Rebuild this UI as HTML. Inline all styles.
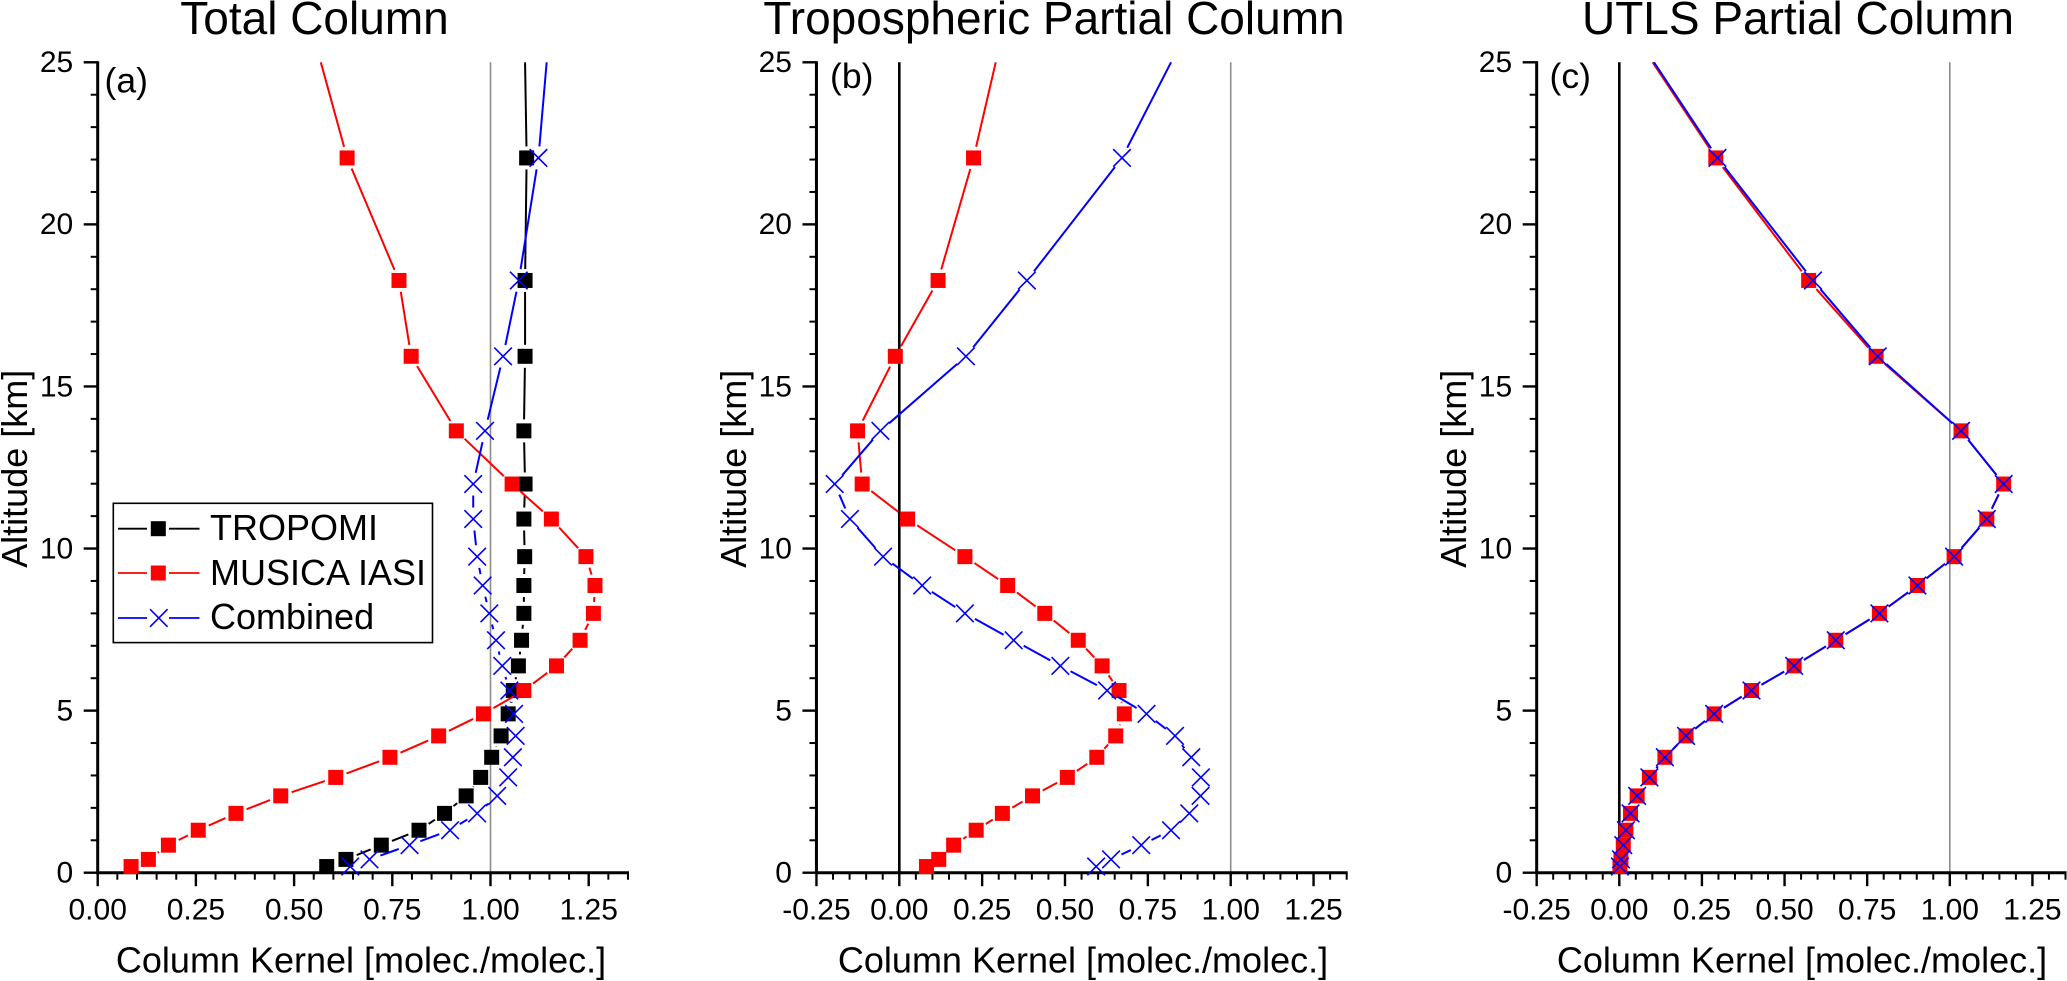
<!DOCTYPE html>
<html lang="en">
<head>
<meta charset="utf-8">
<title>Column Kernel Profiles</title>
<style>
html,body{margin:0;padding:0;background:#fff}
svg{display:block}
text{font-family:"Liberation Sans",Arial,sans-serif;fill:#000}
</style>
</head>
<body>
<svg id="chart" xmlns="http://www.w3.org/2000/svg" width="2067" height="981" viewBox="0 0 2067 981">
<rect x="0" y="0" width="2067" height="981" fill="#fff"/>
</svg>
<script>
const altitudes = [0.19,0.41,0.85,1.31,1.83,2.37,2.94,3.56,4.22,4.90,5.62,6.38,7.17,8.0,8.86,9.75,10.91,11.99,13.63,15.93,18.27,22.05,25];

const totalTropomi = [0.583,0.632,0.722,0.818,0.883,0.938,0.975,1.003,1.027,1.045,1.058,1.071,1.079,1.085,1.085,1.087,1.085,1.088,1.085,1.088,1.088,1.092,1.088];
const totalMusica = [0.085,0.129,0.18,0.256,0.352,0.466,0.606,0.744,0.868,0.982,1.085,1.168,1.228,1.262,1.266,1.243,1.155,1.055,0.913,0.798,0.767,0.635,0.568];
const totalCombined = [0.643,0.692,0.794,0.897,0.966,1.017,1.045,1.057,1.064,1.06,1.048,1.03,1.014,0.997,0.98,0.966,0.956,0.956,0.986,1.032,1.072,1.122,1.143];

const tropoMusica = [0.082,0.119,0.164,0.232,0.311,0.402,0.507,0.596,0.653,0.679,0.663,0.612,0.54,0.439,0.327,0.198,0.025,-0.112,-0.126,-0.012,0.117,0.224,0.291];
const tropoCombined = [0.594,0.639,0.73,0.82,0.875,0.909,0.91,0.881,0.832,0.746,0.627,0.486,0.345,0.198,0.069,-0.049,-0.149,-0.195,-0.057,0.201,0.385,0.672,0.82];

const utlsMusica = [0.002,0.005,0.012,0.02,0.034,0.054,0.091,0.138,0.202,0.287,0.40,0.529,0.655,0.787,0.902,1.013,1.112,1.163,1.034,0.777,0.573,0.292,0.101];
const utlsCombined = [0.002,0.005,0.012,0.02,0.034,0.054,0.091,0.138,0.202,0.287,0.40,0.529,0.655,0.787,0.902,1.013,1.112,1.163,1.034,0.782,0.586,0.297,0.105];

const xTickValuesA = [0,0.25,0.5,0.75,1,1.25];
const xTickLabelsA = ['0.00','0.25','0.50','0.75','1.00','1.25'];
const xTickValuesBC = [-0.25,0,0.25,0.5,0.75,1,1.25];
const xTickLabelsBC = ['-0.25','0.00','0.25','0.50','0.75','1.00','1.25'];
const yTickValues = [0,5,10,15,20,25];
const yTickLabels = ['0','5','10','15','20','25'];

const legendLabels = ['TROPOMI','MUSICA IASI','Combined'];

const NS = 'http://www.w3.org/2000/svg';
const svg = document.getElementById('chart');
const yBottom = 872.7, yTop = 62.3, yMaxKm = 25;
const BLACK = '#000', RED = '#ff0000', BLUE = '#0000ff';

function yScale(km){ return yBottom - (km / yMaxKm) * (yBottom - yTop); }

function make(tag, attrs, parent){
  const el = document.createElementNS(NS, tag);
  for (const k in attrs) el.setAttribute(k, attrs[k]);
  (parent || svg).appendChild(el);
  return el;
}

function drawLine(parent, x1, y1, x2, y2, color, width){
  return make('line', {x1:x1, y1:y1, x2:x2, y2:y2, stroke:color, 'stroke-width':width}, parent);
}

function drawSquare(parent, cx, cy, color){
  const size = 15;
  const r = make('rect', {x:cx - size/2, y:cy - size/2, width:size, height:size, fill:color}, parent);
  return r;
}

function drawCross(parent, cx, cy, color){
  const h = 8.8;
  const g = make('g', {stroke:color, 'stroke-width':1.6, fill:'none'}, parent);
  make('line', {x1:cx-h, y1:cy-h, x2:cx+h, y2:cy+h}, g);
  make('line', {x1:cx-h, y1:cy+h, x2:cx+h, y2:cy-h}, g);
  return g;
}

function drawSeries(parent, name, xs, xScale, color, marker){
  const g = make('g', {}, parent);
  
  
  const gap = 11.5;
  for (let i = 0; i < xs.length - 1; i++) {
    const x1 = xScale(xs[i]), y1 = yScale(altitudes[i]);
    const x2 = xScale(xs[i+1]), y2 = yScale(altitudes[i+1]);
    const len = Math.hypot(x2-x1, y2-y1);
    const endGap = altitudes[i+1] >= yMaxKm ? 0 : gap;
    if (len <= gap + endGap) continue;
    const ux = (x2-x1)/len, uy = (y2-y1)/len;
    drawLine(g, x1+ux*gap, y1+uy*gap, x2-ux*endGap, y2-uy*endGap, color, 2);
  }
  for (let i = 0; i < xs.length; i++) {
    if (altitudes[i] >= yMaxKm) continue;
    const cx = xScale(xs[i]), cy = yScale(altitudes[i]);
    const m = marker === 'square' ? drawSquare(g, cx, cy, color) : drawCross(g, cx, cy, color);
    
    
  }
}

function drawPanel(p){
  const g = make('g', {});
  
  
  const xScale = v => p.xZero + v * p.xUnit;

  const title = make('text', {x:p.titleX, y:34, 'font-size':46, 'text-anchor':'middle'}, g);
  title.textContent = p.title;
  
  

  const refLine = drawLine(g, xScale(1), yTop, xScale(1), yBottom, '#8c8c8c', 1.6);
  
  
  if (p.zeroLine) {
    const zero = drawLine(g, xScale(0), yTop, xScale(0), yBottom, BLACK, 2.6);
    
    
  }

  const xAxis = make('g', {}, g);
  
  
  const yAxis = make('g', {}, g);
  
  

  const xMax = 1.35;
  drawLine(xAxis, xScale(p.xMin) - 1.5, yBottom, xScale(xMax) + 1, yBottom, BLACK, 3);
  drawLine(yAxis, xScale(p.xMin), yTop - 1, xScale(p.xMin), yBottom, BLACK, 3);

  const minorCount = Math.round((xMax - p.xMin) / 0.05);
  for (let i = 0; i <= minorCount; i++) {
    const v = p.xMin + i * 0.05;
    const isMajor = i % 5 === 0;
    drawLine(xAxis, xScale(v), yBottom, xScale(v), yBottom + (isMajor ? 13.5 : 7), BLACK, isMajor ? 2.4 : 2);
  }
  p.xTickValues.forEach((v, i) => {
    const t = make('text', {x:xScale(v), y:919.5, 'font-size':30, 'text-anchor':'middle'}, xAxis);
    t.textContent = p.xTickLabels[i];
    
    
  });

  const axisX = xScale(p.xMin);
  for (let km = 0; km <= yMaxKm; km++) {
    const isMajor = km % 5 === 0;
    drawLine(yAxis, axisX, yScale(km), axisX - (isMajor ? 14 : 7), yScale(km), BLACK, isMajor ? 2.4 : 2);
  }
  yTickValues.forEach((v, i) => {
    const t = make('text', {x:axisX - 24.5, y:yScale(v) + 9.8, 'font-size':30, 'text-anchor':'end'}, yAxis);
    t.textContent = yTickLabels[i];
    
    
  });

  const xTitle = make('text', {x:p.xTitleX, y:972.7, 'font-size':36, 'text-anchor':'middle'}, g);
  xTitle.textContent = 'Column Kernel [molec./molec.]';
  
  

  const yTitle = make('text', {x:0, y:0, 'font-size':36, 'text-anchor':'middle', transform:'translate(' + p.yTitleX + ',468.8) rotate(-90)'}, g);
  yTitle.textContent = 'Altitude [km]';
  
  

  const tag = make('text', {x:p.tagX, y:p.tagY, 'font-size':35.5}, g);
  tag.textContent = p.tag;
  
  

  p.series.forEach(s => drawSeries(g, s.name, s.values, xScale, s.color, s.marker));
}

drawPanel({
  name:'panel-total-column', title:'Total Column', tag:'(a)', tagX:104.5, tagY:92.5,
  titleX:314.5, xTitleX:361, yTitleX:27, xZero:97.7, xUnit:392.8, xMin:0, zeroLine:false,
  xTickValues:xTickValuesA, xTickLabels:xTickLabelsA,
  series:[
    {name:'tropomi-series', values:totalTropomi, color:BLACK, marker:'square'},
    {name:'musica-iasi-series', values:totalMusica, color:RED, marker:'square'},
    {name:'combined-series', values:totalCombined, color:BLUE, marker:'cross'}
  ]
});
drawPanel({
  name:'panel-tropospheric-column', title:'Tropospheric Partial Column', tag:'(b)', tagX:830, tagY:88,
  titleX:1054, xTitleX:1083, yTitleX:746, xZero:899.3, xUnit:331.4, xMin:-0.25, zeroLine:true,
  xTickValues:xTickValuesBC, xTickLabels:xTickLabelsBC,
  series:[
    {name:'musica-iasi-series', values:tropoMusica, color:RED, marker:'square'},
    {name:'combined-series', values:tropoCombined, color:BLUE, marker:'cross'}
  ]
});
drawPanel({
  name:'panel-utls-column', title:'UTLS Partial Column', tag:'(c)', tagX:1549.5, tagY:88,
  titleX:1798, xTitleX:1802, yTitleX:1466, xZero:1619.3, xUnit:330.5, xMin:-0.25, zeroLine:true,
  xTickValues:xTickValuesBC, xTickLabels:xTickLabelsBC,
  series:[
    {name:'musica-iasi-series', values:utlsMusica, color:RED, marker:'square'},
    {name:'combined-series', values:utlsCombined, color:BLUE, marker:'cross'}
  ]
});

const legend = make('g', {});


make('rect', {x:113.3, y:503.3, width:319.2, height:139.3, fill:'#fff', stroke:'#000', 'stroke-width':1.6}, legend);
const legendColors = [BLACK, RED, BLUE];
const legendMarkers = ['square','square','cross'];
const legendLineY = [528.7, 573, 618];
const legendTextY = [540, 585, 629];
legendLabels.forEach((label, i) => {
  const e = make('g', {}, legend);
  
  
  drawLine(e, 118, legendLineY[i], 147, legendLineY[i], legendColors[i], 1.8);
  drawLine(e, 169, legendLineY[i], 199.5, legendLineY[i], legendColors[i], 1.8);
  if (legendMarkers[i] === 'square') drawSquare(e, 158.3, legendLineY[i], legendColors[i]);
  else drawCross(e, 158.8, legendLineY[i], legendColors[i]);
  const t = make('text', {x:210, y:legendTextY[i], 'font-size':36}, e);
  t.textContent = label;
});
</script>
</body>
</html>
